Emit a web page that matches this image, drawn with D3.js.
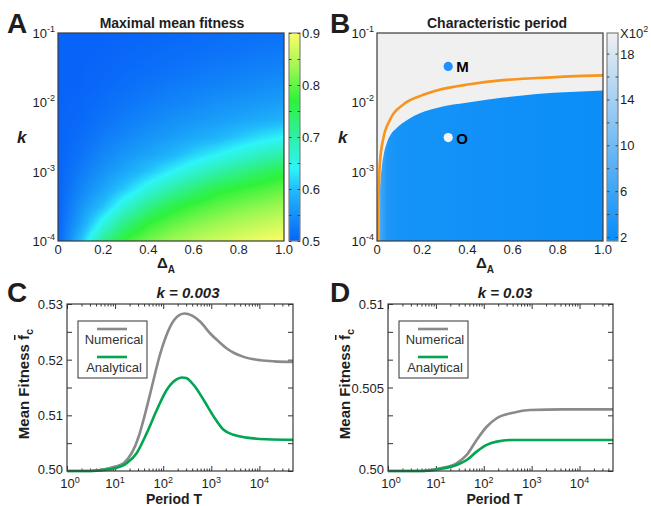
<!DOCTYPE html>
<html><head><meta charset="utf-8">
<script src="https://cdn.jsdelivr.net/npm/d3@7/dist/d3.min.js"></script>
<style>
html,body{margin:0;padding:0;background:#fff;}
svg text{font-family:"Liberation Sans",Arial,Helvetica,sans-serif;fill:#1e1e1e;}
</style></head><body>
<svg id="fig" width="651" height="506" viewBox="0 0 651 506"></svg>
<script>
// ================= DATA =================
// Panel A: maximal mean fitness on a grid (rows: log10 k, columns: ΔA)
const deltaGrid = [0, 0.1, 0.2, 0.3, 0.4, 0.5, 0.6, 0.7, 0.8, 0.9, 1.0];
const logKGrid = [-1, -1.25, -1.5, -1.75, -2, -2.25, -2.5, -2.75, -3, -3.25, -3.5, -3.75, -4];
const fitnessRows = [
  [0.5, 0.5,    0.5,    0.501, 0.503, 0.505, 0.507, 0.510, 0.512, 0.513, 0.515],
  [0.5, 0.5,    0.5006, 0.504, 0.506, 0.510, 0.512, 0.515, 0.518, 0.522, 0.525],
  [0.5, 0.5,    0.503,  0.507, 0.511, 0.515, 0.520, 0.525, 0.528, 0.532, 0.535],
  [0.5, 0.5005, 0.506,  0.512, 0.518, 0.525, 0.530, 0.535, 0.540, 0.545, 0.550],
  [0.5, 0.503,  0.511,  0.519, 0.528, 0.535, 0.542, 0.550, 0.555, 0.560, 0.565],
  [0.5, 0.506,  0.517,  0.529, 0.539, 0.550, 0.557, 0.564, 0.573, 0.580, 0.590],
  [0.5, 0.511,  0.527,  0.542, 0.554, 0.564, 0.577, 0.588, 0.607, 0.625, 0.640],
  [0.5, 0.517,  0.539,  0.557, 0.572, 0.589, 0.615, 0.637, 0.660, 0.681, 0.700],
  [0.5, 0.527,  0.554,  0.576, 0.605, 0.638, 0.670, 0.697, 0.720, 0.741, 0.760],
  [0.5, 0.538,  0.571,  0.612, 0.658, 0.697, 0.730, 0.757, 0.774, 0.786, 0.800],
  [0.5, 0.553,  0.602,  0.667, 0.718, 0.757, 0.780, 0.798, 0.812, 0.824, 0.835],
  [0.5, 0.570,  0.654,  0.726, 0.772, 0.798, 0.817, 0.833, 0.847, 0.859, 0.870],
  [0.5, 0.600,  0.714,  0.778, 0.810, 0.833, 0.852, 0.868, 0.880, 0.890, 0.900]
];
const fitnessTicks = [0.5, 0.6, 0.7, 0.8, 0.9];
const fitnessMinorTicks = [0.5, 0.55, 0.6, 0.65, 0.7, 0.75, 0.8, 0.85, 0.9];
const deltaTicks = [0, 0.2, 0.4, 0.6, 0.8, 1.0];
const deltaTickLabels = ['0', '0.2', '0.4', '0.6', '0.8', '1.0'];
const kTicks = [1e-4, 1e-3, 1e-2, 1e-1];
const kTickExps = ['-4', '-3', '-2', '-1'];

// Panel B: characteristic period (x10^2)
const periodRange = [1.65, 19.8];
const periodTicks = [2, 6, 10, 14, 18];
const periodMinorTicks = [2, 4, 6, 8, 10, 12, 14, 16, 18];
const regionDelta = [0.0103, 0.012, 0.015, 0.0207, 0.03, 0.043, 0.06, 0.087, 0.12, 0.161, 0.264, 0.41, 0.559, 0.707, 0.854, 1.0];
const regionK     = [1e-4, 4e-4, 7e-4, 1.12e-3, 1.8e-3, 2.57e-3, 3.4e-3, 4.27e-3, 5.2e-3, 6.3e-3, 8.3e-3, 1.0e-2, 1.17e-2, 1.32e-2, 1.41e-2, 1.48e-2];
const regionShadeDelta  = [0.01, 0.025, 0.045, 0.1, 0.3, 0.6, 1.0];
const regionShadePeriod = [7.5, 5.5, 3.6, 2.9, 2.7, 2.4, 2.1];
const criticalDelta = [0.0044, 0.0074, 0.0133, 0.028, 0.0575, 0.1165, 0.19, 0.264, 0.41, 0.559, 0.707, 0.854, 1.0];
const criticalK     = [1e-4, 4.7e-4, 1.4e-3, 3.0e-3, 5.6e-3, 9.3e-3, 1.23e-2, 1.48e-2, 1.82e-2, 2.09e-2, 2.24e-2, 2.37e-2, 2.45e-2];
const markerLabels = ['M', 'O'];
const markerDelta = [0.315, 0.315];
const markerK = [0.033, 0.0031];

// Panel C (k = 0.003)
const periodC_num = [1, 3, 6, 10, 15, 31, 39, 54, 87, 139, 200, 277, 400, 590, 950, 1500, 2100, 3000, 4700, 10500, 20000, 50000];
const numericalC  = [0.5, 0.5, 0.5003, 0.5008, 0.5014, 0.5062, 0.5092, 0.5140, 0.5211, 0.5259, 0.5278, 0.5283, 0.5279, 0.5268, 0.5247, 0.5231, 0.5220, 0.5212, 0.5205, 0.5199, 0.5197, 0.5196];
const periodC_ana = [1, 3, 6, 10, 17.4, 28, 45.5, 74, 119, 193, 245, 300, 425, 690, 1120, 1800, 2900, 5400, 14000, 50000];
const analyticalC = [0.5, 0.5, 0.5002, 0.5005, 0.5014, 0.5032, 0.5068, 0.5110, 0.5146, 0.5165, 0.5168, 0.5167, 0.5155, 0.5128, 0.5098, 0.5074, 0.5065, 0.5060, 0.5057, 0.5056];
const fitTicksC = [0.50, 0.51, 0.52, 0.53];
const fitTickLabelsC = ['0.50', '0.51', '0.52', '0.53'];

// Panel D (k = 0.03)
const periodD_num = [1, 5, 12.2, 27, 44, 71, 115, 186, 412, 920, 4600, 50000];
const numericalD  = [0.5, 0.5, 0.50016, 0.50046, 0.50096, 0.50186, 0.50265, 0.50316, 0.50349, 0.50365, 0.50369, 0.50369];
const periodD_ana = [1, 5, 12.2, 27, 44, 71, 115, 186, 412, 50000];
const analyticalD = [0.5, 0.5, 0.50012, 0.50036, 0.50066, 0.50116, 0.50156, 0.50176, 0.50186, 0.50186];
const fitTicksD = [0.50, 0.505, 0.51];
const fitTickLabelsD = ['0.50', '0.505', '0.51'];

const periodMajor = [1, 10, 100, 1000, 10000];
const periodExps = ['0', '1', '2', '3', '4'];
const seriesNames = ['Numerical', 'Analytical'];

// ================= STYLE =================
const fitColorDomain = [0.5, 0.55, 0.6, 0.64, 0.7, 0.77, 0.83, 0.9];
const fitColorRange = ['#0864f8', '#1590f8', '#22bdfa', '#2ef4f8', '#2ef0a6', '#2ef23a', '#98f751', '#fdfd66'];
const colorA = d3.scaleLinear().domain(fitColorDomain).range(fitColorRange).clamp(true);
const colorB = d3.scaleLinear().domain(periodRange).range(['#058cf8', '#f0f0f0']).clamp(true);
const GRAY = '#8a8a8a', GREEN = '#00a651', ORANGE = '#f7941d', BOX = '#3a3a3a';

const svg = d3.select('#fig');
const defs = svg.append('defs');

function supText(g, x, y, base, exp, anchor, size, supSize, rise) {
  const t = g.append('text').attr('x', x).attr('y', y).attr('text-anchor', anchor)
    .style('font-size', size + 'px');
  t.append('tspan').text(base);
  t.append('tspan').attr('dy', -rise).style('font-size', supSize + 'px').text(exp);
  return t;
}
function bigLetter(x, y, s) {
  svg.append('text').attr('x', x).attr('y', y).style('font-size', '28px').style('font-weight', 'bold').text(s);
}
function title(x, y, s, italic) {
  svg.append('text').attr('x', x).attr('y', y).attr('text-anchor', 'middle')
    .style('font-size', italic ? '15px' : '14px').style('font-weight', 'bold')
    .style('font-style', italic ? 'italic' : 'normal').text(s);
}

// ================= PANEL A =================
const xA = d3.scaleLinear().domain([0, 1]).range([58, 284]);
const yA = d3.scaleLog().domain([1e-4, 1e-1]).range([241, 33]);
(function () {
  const x0 = xA.range()[0], x1 = xA.range()[1], y0 = yA.range()[1], y1 = yA.range()[0];
  const w = Math.round(x1 - x0), h = Math.round(y1 - y0);
  const cv = document.createElement('canvas'); cv.width = w; cv.height = h;
  const ctx = cv.getContext('2d'); const im = ctx.createImageData(w, h);
  const ci = d3.scaleLinear().domain([deltaGrid[0], deltaGrid[deltaGrid.length - 1]]).range([0, deltaGrid.length - 1]).clamp(true);
  const ri = d3.scaleLinear().domain([logKGrid[0], logKGrid[logKGrid.length - 1]]).range([0, logKGrid.length - 1]).clamp(true);
  for (let py = 0; py < h; py++) {
    const lk = Math.log10(yA.invert(y0 + py + 0.5));
    const r = ri(lk); const r0 = Math.min(Math.floor(r), logKGrid.length - 2); const tr = r - r0;
    for (let px = 0; px < w; px++) {
      const d = xA.invert(x0 + px + 0.5);
      const c = ci(d); const c0 = Math.min(Math.floor(c), deltaGrid.length - 2); const tc = c - c0;
      const v = (1 - tr) * ((1 - tc) * fitnessRows[r0][c0] + tc * fitnessRows[r0][c0 + 1]) +
                tr * ((1 - tc) * fitnessRows[r0 + 1][c0] + tc * fitnessRows[r0 + 1][c0 + 1]);
      const col = d3.rgb(colorA(v));
      const k = (py * w + px) * 4;
      im.data[k] = col.r; im.data[k + 1] = col.g; im.data[k + 2] = col.b; im.data[k + 3] = 255;
    }
  }
  ctx.putImageData(im, 0, 0);
  svg.append('image').attr('x', x0).attr('y', y0).attr('width', w).attr('height', h)
    .attr('preserveAspectRatio', 'none').attr('href', cv.toDataURL());
  svg.append('rect').attr('x', x0).attr('y', y0).attr('width', w).attr('height', h)
    .attr('fill', 'none').attr('stroke', BOX).attr('stroke-width', 1.2);
})();

function heatAxes(xS, yS, kx, dx) {
  const g = svg.append('g');
  deltaTicks.forEach((t, i) => {
    g.append('text').attr('x', xS(t)).attr('y', 254).attr('text-anchor', 'middle')
      .style('font-size', '13px').text(deltaTickLabels[i]);
  });
  kTicks.forEach((t, i) => {
    supText(g, xS.range()[0] - 3, yS(t) + 5, '10', kTickExps[i], 'end', 13, 9, 6);
  });
  g.append('text').attr('x', kx).attr('y', 143).style('font-size', '17px')
    .style('font-weight', 'bold').style('font-style', 'italic').text('k');
  const lab = g.append('text').attr('x', dx).attr('y', 268).attr('text-anchor', 'middle')
    .style('font-weight', 'bold').style('font-size', '15px');
  lab.append('tspan').text('Δ');
  lab.append('tspan').attr('dy', 5).style('font-size', '10px').text('A');
}
heatAxes(xA, yA, 17, 166);

function colorbar(x0, x1, yScale, gradStops, id, ticks, minor, labelFmt) {
  const gr = defs.append('linearGradient').attr('id', id).attr('x1', 0).attr('x2', 0).attr('y1', 1).attr('y2', 0);
  gradStops.forEach(s => gr.append('stop').attr('offset', s[0]).attr('stop-color', s[1]));
  const y0 = yScale.range()[1], y1 = yScale.range()[0];
  svg.append('rect').attr('x', x0).attr('y', y0).attr('width', x1 - x0).attr('height', y1 - y0)
    .attr('fill', `url(#${id})`).attr('stroke', '#808080').attr('stroke-width', 1.2);
  const gl = svg.append('g').attr('transform', `translate(${x0},0)`)
    .call(d3.axisLeft(yScale).tickValues(minor).tickSize(-2.5).tickFormat(''));
  const gr2 = svg.append('g').attr('transform', `translate(${x1},0)`)
    .call(d3.axisRight(yScale).tickValues(minor).tickSize(-2.5).tickFormat(''));
  [gl, gr2].forEach(g => { g.select('.domain').remove(); g.selectAll('line').attr('stroke', '#444'); });
  ticks.forEach(t => {
    svg.append('text').attr('x', x1 + 2).attr('y', yScale(t) + 5).style('font-size', '13px').text(labelFmt(t));
  });
}
const cbA = d3.scaleLinear().domain([0.5, 0.9]).range([241, 33]);
colorbar(289, 300, cbA, fitColorDomain.map((v, i) => [(v - 0.5) / 0.4, fitColorRange[i]]), 'cbA',
  fitnessTicks, fitnessMinorTicks, d3.format('.1f'));

bigLetter(7, 33, 'A');
title(172, 28, 'Maximal mean fitness', false);

// ================= PANEL B =================
const xB = d3.scaleLinear().domain([0, 1]).range([377, 603]);
const yB = d3.scaleLog().domain([1e-4, 1e-1]).range([241, 33]);
(function () {
  const x0 = xB.range()[0], x1 = xB.range()[1], y0 = yB.range()[1], y1 = yB.range()[0];
  defs.append('clipPath').attr('id', 'clipB').append('rect')
    .attr('x', x0).attr('y', y0).attr('width', x1 - x0).attr('height', y1 - y0);
  const g = svg.append('g').attr('clip-path', 'url(#clipB)');
  g.append('rect').attr('x', x0).attr('y', y0).attr('width', x1 - x0).attr('height', y1 - y0)
    .attr('fill', colorB(periodRange[1]));
  const grad = defs.append('linearGradient').attr('id', 'gRegion').attr('gradientUnits', 'userSpaceOnUse')
    .attr('x1', xB(0)).attr('x2', xB(1)).attr('y1', 0).attr('y2', 0);
  regionShadeDelta.forEach((d, i) => grad.append('stop').attr('offset', d).attr('stop-color', colorB(regionShadePeriod[i])));
  const area = d3.area().x(d => xB(d[0])).y0(yB(1e-4) + 2).y1(d => yB(d[1])).curve(d3.curveMonotoneX);
  g.append('path').datum(d3.zip(regionDelta, regionK)).attr('d', area).attr('fill', 'url(#gRegion)');
  const line = d3.line().x(d => xB(d[0])).y(d => yB(d[1])).curve(d3.curveMonotoneX);
  g.append('path').datum([[criticalDelta[0], 5e-5]].concat(d3.zip(criticalDelta, criticalK)))
    .attr('d', line).attr('fill', 'none').attr('stroke', ORANGE).attr('stroke-width', 2.6);
  markerLabels.forEach((m, i) => {
    g.append('circle').attr('cx', xB(markerDelta[i])).attr('cy', yB(markerK[i])).attr('r', 4.6)
      .attr('fill', i === 0 ? '#1e90ff' : '#f4f4f4');
    g.append('text').attr('x', xB(markerDelta[i]) + 8).attr('y', yB(markerK[i]) + 6)
      .style('font-size', '15px').style('font-weight', 'bold').style('fill', '#000').text(m);
  });
  svg.append('rect').attr('x', x0).attr('y', y0).attr('width', x1 - x0).attr('height', y1 - y0)
    .attr('fill', 'none').attr('stroke', BOX).attr('stroke-width', 1.2);
})();
heatAxes(xB, yB, 338, 485);
const cbB = d3.scaleLinear().domain(periodRange).range([241, 33]);
colorbar(607, 618, cbB, [[0, colorB(periodRange[0])], [1, colorB(periodRange[1])]], 'cbB',
  periodTicks, periodMinorTicks, d3.format('d'));
supText(svg, 620, 38, 'X10', '2', 'start', 13, 9, 6);
bigLetter(330, 33, 'B');
title(497, 28, 'Characteristic period', false);

// ================= PANELS C & D =================
function linePanel(cfg) {
  const x = d3.scaleLog().domain([1, 5e4]).range([cfg.left, cfg.right]);
  const y = d3.scaleLinear().domain(cfg.yDomain).range([471, 304]);
  const top = 304, bottom = 471;
  svg.append('rect').attr('x', cfg.left).attr('y', top).attr('width', cfg.right - cfg.left)
    .attr('height', bottom - top).attr('fill', '#fff');
  const minor = [];
  for (let e = 0; e <= 4; e++) for (let m = 2; m <= 9; m++) { const v = m * Math.pow(10, e); if (v < 5e4) minor.push(v); }
  const axes = [
    svg.append('g').attr('transform', `translate(0,${bottom})`).call(d3.axisBottom(x).tickValues(periodMajor).tickSize(-5).tickFormat('')),
    svg.append('g').attr('transform', `translate(0,${bottom})`).call(d3.axisBottom(x).tickValues(minor).tickSize(-2.5).tickFormat('')),
    svg.append('g').attr('transform', `translate(0,${top})`).call(d3.axisTop(x).tickValues(periodMajor).tickSize(-5).tickFormat('')),
    svg.append('g').attr('transform', `translate(0,${top})`).call(d3.axisTop(x).tickValues(minor).tickSize(-2.5).tickFormat('')),
    svg.append('g').attr('transform', `translate(${cfg.left},0)`).call(d3.axisLeft(y).tickValues(cfg.yMinor).tickSize(-5).tickFormat('')),
    svg.append('g').attr('transform', `translate(${cfg.right},0)`).call(d3.axisRight(y).tickValues(cfg.yMinor).tickSize(-5).tickFormat(''))
  ];
  axes.forEach(g => { g.select('.domain').remove(); g.selectAll('line').attr('stroke', '#333').attr('stroke-width', 1); });
  periodMajor.forEach((t, i) => supText(svg, x(t) + (i === 0 ? 3 : 0), 488, '10', periodExps[i], 'middle', 13, 9, 5));
  cfg.yTicks.forEach((t, i) => {
    svg.append('text').attr('x', cfg.left - 4).attr('y', y(t) + (i === 0 ? 3 : 5)).attr('text-anchor', 'end')
      .style('font-size', '13px').text(cfg.yLabels[i]);
  });
  const line = d3.line().x(d => x(d[0])).y(d => y(d[1])).curve(d3.curveMonotoneX);
  svg.append('path').datum(d3.zip(cfg.numT, cfg.num)).attr('d', line).attr('fill', 'none')
    .attr('stroke', GRAY).attr('stroke-width', 2.6);
  svg.append('path').datum(d3.zip(cfg.anaT, cfg.ana)).attr('d', line).attr('fill', 'none')
    .attr('stroke', GREEN).attr('stroke-width', 2.6);
  svg.append('rect').attr('x', cfg.left).attr('y', top).attr('width', cfg.right - cfg.left)
    .attr('height', bottom - top).attr('fill', 'none').attr('stroke', BOX).attr('stroke-width', 1.2);
  // legend
  const lx = cfg.left + 11, ly = 321;
  svg.append('rect').attr('x', lx).attr('y', ly).attr('width', 69).attr('height', 57)
    .attr('fill', '#fff').attr('stroke', '#333').attr('stroke-width', 1);
  [GRAY, GREEN].forEach((c, i) => {
    svg.append('line').attr('x1', lx + 19).attr('x2', lx + 49).attr('y1', ly + 8 + i * 28).attr('y2', ly + 8 + i * 28)
      .attr('stroke', c).attr('stroke-width', 2.6);
    svg.append('text').attr('x', lx + 36).attr('y', ly + 23 + i * 28).attr('text-anchor', 'middle')
      .style('font-size', '13px').style('fill', '#333').text(seriesNames[i]);
  });
  // labels
  svg.append('text').attr('x', (cfg.left + cfg.right) / 2 - 6).attr('y', 504).attr('text-anchor', 'middle')
    .style('font-size', '14px').style('font-weight', 'bold').text('Period T');
  const yl = svg.append('text').attr('transform', `translate(${cfg.left - 38},384) rotate(-90)`)
    .attr('text-anchor', 'middle').style('font-size', '15px').style('font-weight', 'bold');
  yl.append('tspan').text('Mean Fitness ');
  yl.append('tspan').style('text-decoration', 'overline').text('f');
  yl.append('tspan').attr('dy', 4).style('font-size', '11px').text('c');
  title(cfg.titleX, 298, cfg.title, true);
  bigLetter(cfg.letterX, 302, cfg.letter);
}
const minorC = d3.range(0, 7).map(i => 0.5 + i * 0.005);
const minorD = d3.range(0, 7).map(i => 0.5 + i * 0.01 / 6);
linePanel({ left: 67, right: 293, yDomain: [0.5, 0.53], yTicks: fitTicksC, yLabels: fitTickLabelsC, yMinor: minorC,
  numT: periodC_num, num: numericalC, anaT: periodC_ana, ana: analyticalC, title: 'k = 0.003', titleX: 188, letter: 'C', letterX: 7 });
linePanel({ left: 388, right: 613, yDomain: [0.5, 0.51], yTicks: fitTicksD, yLabels: fitTickLabelsD, yMinor: minorD,
  numT: periodD_num, num: numericalD, anaT: periodD_ana, ana: analyticalD, title: 'k = 0.03', titleX: 505, letter: 'D', letterX: 330 });
</script>
</body></html>
